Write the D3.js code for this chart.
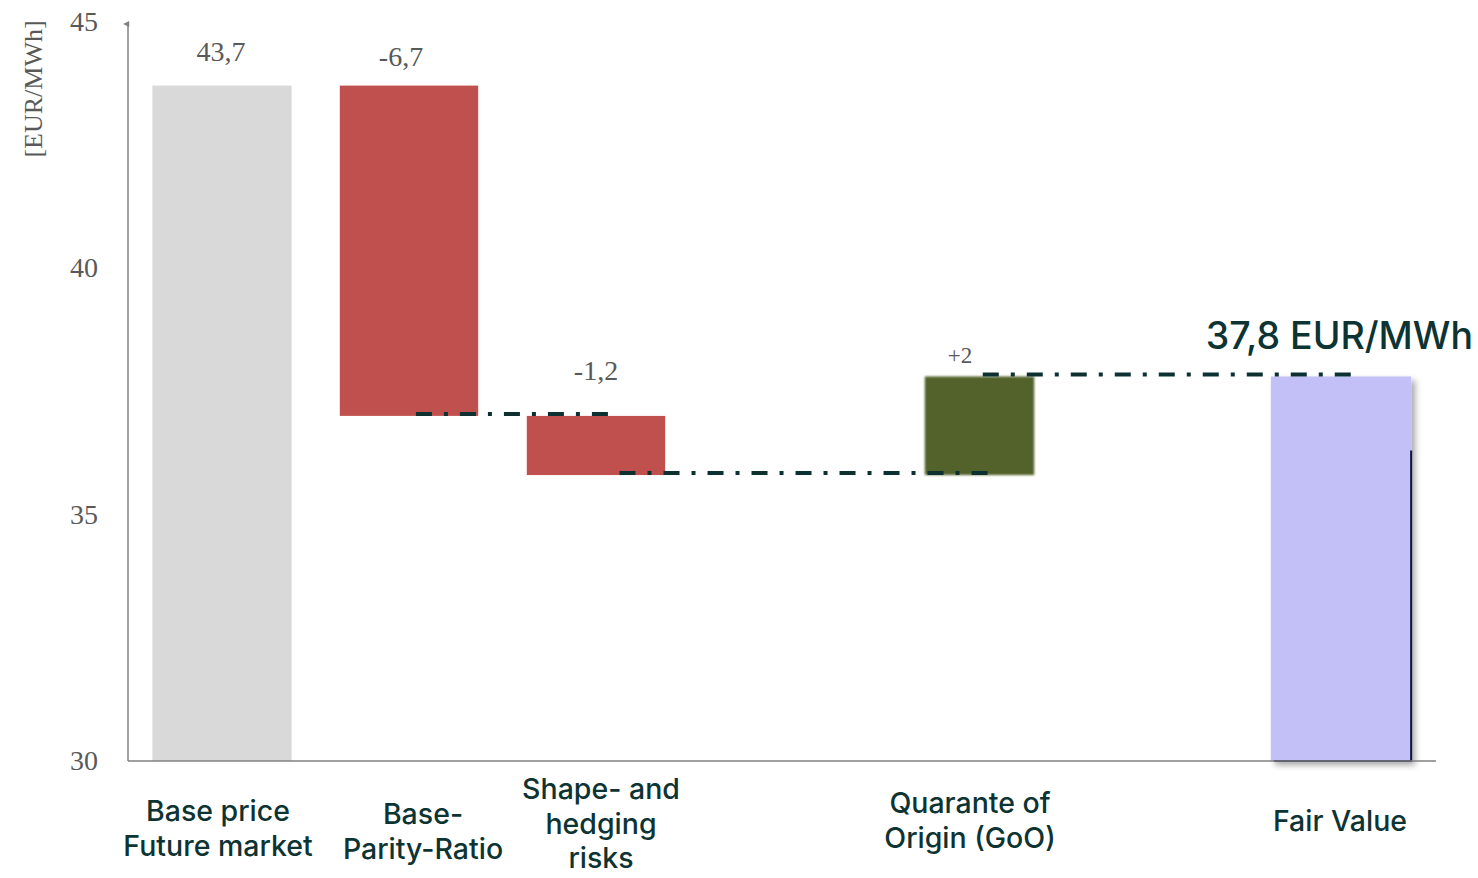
<!DOCTYPE html>
<html><head><meta charset="utf-8">
<script src="https://cdn.jsdelivr.net/npm/d3@7"></script>
<style>body{margin:0;background:#fff}svg{display:block}</style>
</head><body><svg id="c" width="1478" height="878"></svg>
<script>
// ---- data ----
const categories = ["Base price|Future market", "Base-|Parity-Ratio", "Shape- and|hedging|risks", "Quarante of|Origin (GoO)", "Fair Value"];
const slotKeys = ["Base price|Future market", "Base-|Parity-Ratio", "Shape- and|hedging|risks", "gap1", "Quarante of|Origin (GoO)", "gap2", "Fair Value"];
const changes = [43.7, -6.7, -1.2, 2.0, 37.8];
const kinds = ["total", "delta", "delta", "delta", "total"];
const valueLabels = ["43,7", "-6,7", "-1,2", "+2", ""];
const yTicks = [30, 35, 40, 45];
const finalLabel = "37,8 EUR/MWh";
const yTitle = "[EUR/MWh]";

const svg = d3.select("#c");
const x = d3.scaleBand().domain(slotKeys).range([128.5, 1437.5]).paddingInner(0).paddingOuter(0);
const y = d3.scaleLinear().domain([30, 45]).range([761, 21.5]);

// compute bar extents
let run = 0;
const bars = categories.map((c, i) => {
  let lo, hi;
  if (kinds[i] === "total") { lo = 30; hi = changes[i]; run = changes[i]; }
  else { const a = run, b = run + changes[i]; lo = Math.min(a, b); hi = Math.max(a, b); run = b; }
  return {c, i, lo, hi, end: run};
});
const colors = ["#d9d9d9", "#c0504d", "#c0504d", "#52622a", "#c3bff7"];
const widthFrac = [0.745, 0.74, 0.74, 0.585, 0.75];
const shiftPx = [0, 0, 0, 9.5, -3];
function bx(d) { const w = x.step() * widthFrac[d.i]; return x(d.c) + x.bandwidth() / 2 - w / 2 + shiftPx[d.i]; }
function bw(d) { return x.step() * widthFrac[d.i]; }

const defs = svg.append("defs");
const sh = defs.append("filter").attr("id", "sh").attr("x", "-20%").attr("y", "-20%").attr("width", "150%").attr("height", "150%");
sh.append("feDropShadow").attr("dx", 4).attr("dy", 4).attr("stdDeviation", 3).attr("flood-color", "#000").attr("flood-opacity", 0.35);
const soft = defs.append("filter").attr("id", "soft").attr("x", "-10%").attr("y", "-10%").attr("width", "120%").attr("height", "120%");
soft.append("feGaussianBlur").attr("stdDeviation", 0.8);
defs.append("marker").attr("id", "arr").attr("viewBox", "0 0 10 10").attr("refX", 5).attr("refY", 8)
  .attr("markerWidth", 4).attr("markerHeight", 6).attr("markerUnits", "strokeWidth").attr("orient", "auto-start-reverse")
  .append("path").attr("d", "M0,10 L5,0 L10,10 Z").attr("fill", "#7f7f7f");

// bars
svg.selectAll("rect.bar").data(bars).join("rect").attr("class", "bar")
  .attr("x", d => bx(d)).attr("width", d => bw(d))
  .attr("y", d => y(d.hi)).attr("height", d => y(d.lo) - y(d.hi))
  .attr("fill", (d) => colors[d.i])
  .attr("filter", d => d.i === 4 ? "url(#sh)" : (d.i === 3 ? "url(#soft)" : null));

// dark edge on final bar
const fb = bars[4];
svg.append("line").attr("x1", bx(fb) + bw(fb)).attr("x2", bx(fb) + bw(fb))
  .attr("y1", y(36.3)).attr("y2", y(30)).attr("stroke", "#0c1445").attr("stroke-width", 2);
svg.append("line").attr("x1", bx(fb) + 3).attr("x2", bx(fb) + bw(fb) + 1)
  .attr("y1", y(30)).attr("y2", y(30)).attr("stroke", "#0c1445").attr("stroke-width", 2);

// axes
svg.append("line").attr("x1", 128).attr("x2", 1436).attr("y1", y(30)).attr("y2", y(30)).attr("stroke", "#808080").attr("stroke-width", 1.5);
svg.append("path").attr("d", `M128,${y(30)} V24`).attr("stroke", "#808080").attr("stroke-width", 1.5).attr("marker-end", "url(#arr)");

const yAxis = d3.axisLeft(y).tickValues(yTicks).tickSize(0).tickPadding(30).tickFormat(d3.format("d"));
const ga = svg.append("g").attr("transform", "translate(128,0)").call(yAxis);
ga.select(".domain").remove();
ga.selectAll("text").attr("font-family", "'Liberation Serif', 'Times New Roman', serif").attr("font-size", 28).attr("fill", "#595959");

svg.append("text").attr("transform", `translate(42,89) rotate(-90)`).attr("text-anchor", "middle")
  .attr("font-family", "'Liberation Serif', serif").attr("font-size", 26).attr("fill", "#595959").text(yTitle);

// connectors (dash-dot)
const connectors = [[1, 2], [2, 3], [3, 4]];
const startFrac = [0.55, 0.67, 0.53];
const endFrac = [0.59, 0.6, 0.58];
svg.selectAll("line.conn").data(connectors).join("line").attr("class", "conn")
  .attr("x1", (d, k) => bx(bars[d[0]]) + bw(bars[d[0]]) * startFrac[k])
  .attr("x2", (d, k) => bx(bars[d[1]]) + bw(bars[d[1]]) * endFrac[k])
  .attr("y1", d => y(bars[d[0]].end) - 2).attr("y2", d => y(bars[d[0]].end) - 2)
  .attr("stroke", "#0d3030").attr("stroke-width", 4).attr("stroke-dasharray", "16 12 4 12");

// value labels
const labelSize = [28, 28, 28, 23, 28];
svg.selectAll("text.val").data(bars.filter(d => valueLabels[d.i])).join("text").attr("class", "val")
  .attr("x", d => [221, 401, 596, 960][d.i]).attr("y", d => y(d.i === 2 ? bars[1].end : d.hi) - [25, 20, 36, 13][d.i])
  .attr("text-anchor", "middle").attr("font-family", "'Liberation Serif', serif")
  .attr("font-size", d => labelSize[d.i]).attr("fill", "#595959").text(d => valueLabels[d.i]);

// final label
svg.append("text").attr("x", 1473).attr("y", y(fb.hi) - 27).attr("text-anchor", "end")
  .attr("font-family", "Inter, 'Open Sans', sans-serif").attr("font-weight", 500).attr("font-size", 37.5)
  .attr("fill", "#0d3333").text(finalLabel);

// category labels
const labelDx = [-4, 14, 5, 0, -4];
const labelY0 = [821, 824, 799, 813, 831];
categories.forEach((c, i) => {
  const lines = c.split("|");
  const t = svg.append("text").attr("text-anchor", "middle")
    .attr("font-family", "Inter, 'Open Sans', sans-serif").attr("font-weight", 500).attr("font-size", 28.5)
    .attr("fill", "#0d3333");
  lines.forEach((l, j) => t.append("tspan").attr("x", x(c) + x.bandwidth() / 2 + labelDx[i]).attr("y", labelY0[i] + j * 34.5).text(l));
});
</script></body></html>
